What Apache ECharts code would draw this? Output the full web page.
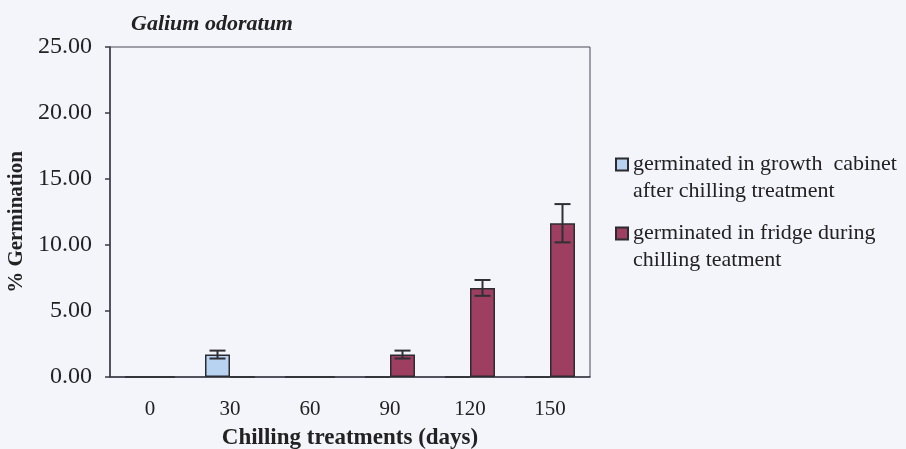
<!DOCTYPE html>
<html>
<head>
<meta charset="utf-8">
<script src="https://cdn.jsdelivr.net/npm/echarts@6/dist/echarts.min.js"></script>
<style>
  html, body { margin: 0; padding: 0; background: #f3f5fa; }
  #main { width: 906px; height: 449px; }
</style>
</head>
<body>
<div id="main"></div>
<script>
// chilling days on the x axis
var categories = ['0', '30', '60', '90', '120', '150'];
// germinated in growth cabinet after chilling
var cabinet = [0, 1.7, 0, 0, 0, 0];
var cabinetErr = [0, 0.3, 0, 0, 0, 0];
// germinated in fridge during chilling
var fridge = [0, 0, 0, 1.7, 6.75, 11.65];
var fridgeErr = [0, 0, 0, 0.3, 0.6, 1.45];
var yTicks = [0, 5, 10, 15, 20, 25];

var nameCabinet = 'germinated in growth  cabinet\nafter chilling treatment';
var nameFridge = 'germinated in fridge during\nchilling teatment';

var BAR_W = 25;
var serif = '"Liberation Serif", "Times New Roman", serif';

function errData(vals, errs) {
  return vals.map(function (v, i) { return [i, v, errs[i]]; });
}

function errorBar(offset) {
  return function (params, api) {
    var err = api.value(2);
    if (!err) return null;
    var i = api.value(0), v = api.value(1);
    var hi = api.coord([i, v + err]);
    var lo = api.coord([i, v - err]);
    var x = hi[0] + offset;
    var cap = 8;
    var st = { stroke: '#2f2f35', lineWidth: 2 };
    return {
      type: 'group',
      children: [
        { type: 'line', shape: { x1: x, y1: hi[1], x2: x, y2: lo[1] }, style: st },
        { type: 'line', shape: { x1: x - cap, y1: hi[1], x2: x + cap, y2: hi[1] }, style: st },
        { type: 'line', shape: { x1: x - cap, y1: lo[1], x2: x + cap, y2: lo[1] }, style: st }
      ]
    };
  };
}

var chart = echarts.init(document.getElementById('main'));
chart.setOption({
  backgroundColor: '#f3f5fa',
  animation: false,
  title: {
    text: 'Galium odoratum',
    left: 126, top: 8,
    textStyle: { fontFamily: serif, fontSize: 22, fontWeight: 'bold', fontStyle: 'italic', color: '#222' }
  },
  legend: {
    orient: 'vertical',
    left: 610, top: 119,
    icon: 'rect',
    itemWidth: 12, itemHeight: 12,
    itemGap: -12,
    data: [nameCabinet, nameFridge],
    // leading blank line keeps the first text line level with the icon
    formatter: function (n) { return ' \n' + n; },
    textStyle: { fontFamily: serif, fontSize: 22, color: '#222', lineHeight: 27 }
  },
  grid: {
    left: 110, right: 316, top: 47, bottom: 72,
    outerBoundsMode: 'none',
    show: true, borderColor: '#4a4a55', borderWidth: 1, backgroundColor: 'transparent'
  },
  xAxis: {
    type: 'category',
    data: categories,
    name: 'Chilling treatments (days)',
    nameLocation: 'middle',
    nameGap: 50,
    nameTextStyle: { fontFamily: serif, fontSize: 23, fontWeight: 'bold', color: '#222' },
    axisLine: { lineStyle: { color: '#3a3a44', width: 1.5 } },
    axisTick: { length: 5, lineStyle: { color: '#3a3a44', width: 1.5 } },
    axisLabel: { fontFamily: serif, fontSize: 21, color: '#222', margin: 22 }
  },
  yAxis: {
    type: 'value',
    min: yTicks[0], max: yTicks[yTicks.length - 1], interval: 5,
    name: '% Germination',
    nameLocation: 'middle',
    nameGap: 80,
    nameTextStyle: { fontFamily: serif, fontSize: 21, fontWeight: 'bold', color: '#222', padding: [0, 20, 0, 0] },
    axisLine: { show: true, lineStyle: { color: '#3a3a44', width: 1.5 } },
    axisTick: { show: true, length: 5, lineStyle: { color: '#3a3a44', width: 1.5 } },
    splitLine: { show: false },
    axisLabel: {
      fontFamily: serif, fontSize: 24, color: '#222', margin: 18,
      formatter: function (v) { return v.toFixed(2); }
    }
  },
  series: [
    {
      name: nameCabinet, type: 'bar', data: cabinet,
      barWidth: BAR_W, barGap: '0%',
      itemStyle: { color: '#b8d2f1', borderColor: '#2b2b30', borderWidth: 1.5 }
    },
    {
      name: nameFridge, type: 'bar', data: fridge,
      barWidth: BAR_W, barGap: '0%',
      itemStyle: { color: '#9e3f61', borderColor: '#2b2b30', borderWidth: 1.5 }
    },
    {
      type: 'custom', data: errData(cabinet, cabinetErr),
      renderItem: errorBar(-BAR_W / 2), z: 5, silent: true
    },
    {
      type: 'custom', data: errData(fridge, fridgeErr),
      renderItem: errorBar(BAR_W / 2), z: 5, silent: true
    }
  ]
});
</script>
</body>
</html>
